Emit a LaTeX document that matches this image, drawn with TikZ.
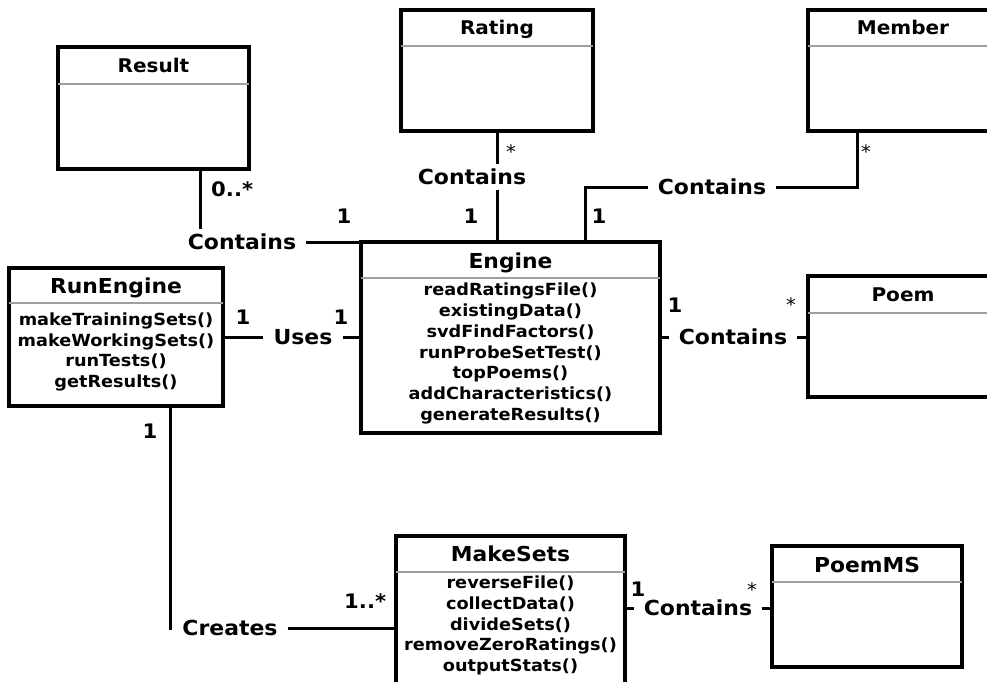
\documentclass[tikz,border=0pt]{standalone}
\usepackage{fontspec}
\newfontfamily\umlfont{DejaVu Sans}[FakeStretch=1.06]
\tikzset{
  box/.style={draw=black, line width=3.2pt, rectangle, inner sep=0pt},
  sepline/.style={draw=gray!75, line width=1.8pt, shorten <=1.6pt, shorten >=1.6pt},
  conn/.style={draw=black, line width=3pt},
  ttl/.style={font=\umlfont\bfseries\fontsize{20.6}{22}\selectfont, text height=15pt, text depth=0pt, inner sep=0pt},
  ttlsmall/.style={font=\umlfont\bfseries\fontsize{18.9}{21}\selectfont, text height=13.8pt, text depth=0pt, inner sep=0pt},
  meth/.style={font=\umlfont\bfseries\fontsize{16.7}{20.7}\selectfont, align=center, inner sep=0pt},
  rel/.style={font=\umlfont\bfseries\fontsize{20.7}{22}\selectfont, text height=15.1pt, text depth=0pt, inner xsep=10pt, inner ysep=5pt},
  mult/.style={font=\umlfont\bfseries\fontsize{20}{22}\selectfont, inner sep=0pt, anchor=base},
  multw/.style={mult, anchor=base west},
  star/.style={font=\umlfont\fontsize{18.5}{20}\selectfont, inner sep=0pt, anchor=base},
}
% class box: name, x1, y1, x2, y2, y of the separator line
\newcommand\classbox[6]{%
  \node[box, minimum width={#4-#2}, minimum height={#5-#3}] (#1) at ({(#2+#4)/2},{(#3+#5)/2}) {};
  \draw[sepline] (#1.west |- 0,#6) -- (#1.east |- 0,#6);
}
\begin{document}
\begin{tikzpicture}[x=1pt, y=-1pt]
\fill[white] (0,0) rectangle (987,682);
\useasboundingbox (0,0) rectangle (987,682);

% classes
\classbox{result}{58}{47}{249}{169}{84}
\classbox{rating}{401}{10}{593}{131}{46}
\classbox{member}{808}{10}{998}{131}{46}
\classbox{engine}{361}{242}{660}{433}{278}
\classbox{poem}{808}{276}{998}{397}{313}
\classbox{runengine}{9}{268}{223}{406}{303}
\classbox{makesets}{396}{536}{625}{690}{572}
\classbox{poemms}{772}{546}{962}{667}{582}

% class names
\node[ttlsmall] (tresult) at (result.north |- 0,65.5) {Result};
\node[ttlsmall] (trating) at (rating.north |- 0,28) {Rating};
\node[ttlsmall] (tmember) at (member.north |- 0,28) {Member};
\node[ttlsmall] (tpoem) at (poem.north |- 0,294.5) {Poem};
\node[ttl] (tengine) at (engine.north |- 0,260.5) {Engine};
\node[ttl] (trunengine) at (runengine.north |- 0,286) {RunEngine};
\node[ttl] (tmakesets) at (makesets.north |- 0,554) {MakeSets};
\node[ttl] (tpoemms) at (poemms.north |- 0,564.5) {PoemMS};

% operations
\node[meth] (orun) at (runengine.north |- 0,352) {makeTrainingSets()\\makeWorkingSets()\\runTests()\\getResults()};
\node[meth] (oengine) at (engine.north |- 0,353.5) {readRatingsFile()\\existingData()\\svdFindFactors()\\runProbeSetTest()\\topPoems()\\addCharacteristics()\\generateResults()};
\node[meth] (omake) at (makesets.north |- 0,625.5) {reverseFile()\\collectData()\\divideSets()\\removeZeroRatings()\\outputStats()};

% association names
\node[rel] (cres) at (242,242) {Contains};
\node[rel] (crat) at (472,177) {Contains};
\node[rel] (cmem) at (712,187) {Contains};
\node[rel] (uses) at (303,337) {Uses};
\node[rel] (cpoem) at (733,337) {Contains};
\node[rel] (creates) at (230,628) {Creates};
\node[rel] (cms) at (698,608) {Contains};

% associations
\draw[conn] (result.south -| 200,0) -- (cres.north -| 200,0);
\draw[conn] (cres.east) -- (cres.east -| engine.north west);
\draw[conn] (rating.south) -- (crat.north -| rating.south);
\draw[conn] (crat.south -| rating.south) -- (engine.north -| rating.south);
\draw[conn] (engine.north -| 585,0) |- (cmem.west);
\draw[conn] (cmem.east) -| (member.south -| 857,0);
\draw[conn] (runengine.east) -- (uses.west);
\draw[conn] (uses.east) -- (engine.west |- uses);
\draw[conn] (engine.east |- cpoem) -- (cpoem.west);
\draw[conn] (cpoem.east) -- (poem.west |- cpoem);
\draw[conn] (runengine.south -| 170,0) |- (creates.west);
\draw[conn] (creates.east) -- (makesets.west |- creates);
\draw[conn] (makesets.east |- cms) -- (cms.west);
\draw[conn] (cms.east) -- (poemms.west |- cms);

% multiplicities
\node[multw] (m1) at (211,196) {0..*};
\node[mult] (m2) at (344,223.5) {1};
\node[star] (m3) at (511,158.6) {*};
\node[mult] (m4) at (471,223.5) {1};
\node[mult] (m5) at (599,223.5) {1};
\node[star] (m6) at (866,158.6) {*};
\node[mult] (m7) at (243,324) {1};
\node[mult] (m8) at (341,324) {1};
\node[mult] (m9) at (675,312) {1};
\node[star] (m10) at (791,311.6) {*};
\node[mult] (m11) at (150,438) {1};
\node[multw] (m12) at (344,608) {1..*};
\node[mult] (m13) at (638,596) {1};
\node[star] (m14) at (752,596.6) {*};
\end{tikzpicture}
\end{document}
